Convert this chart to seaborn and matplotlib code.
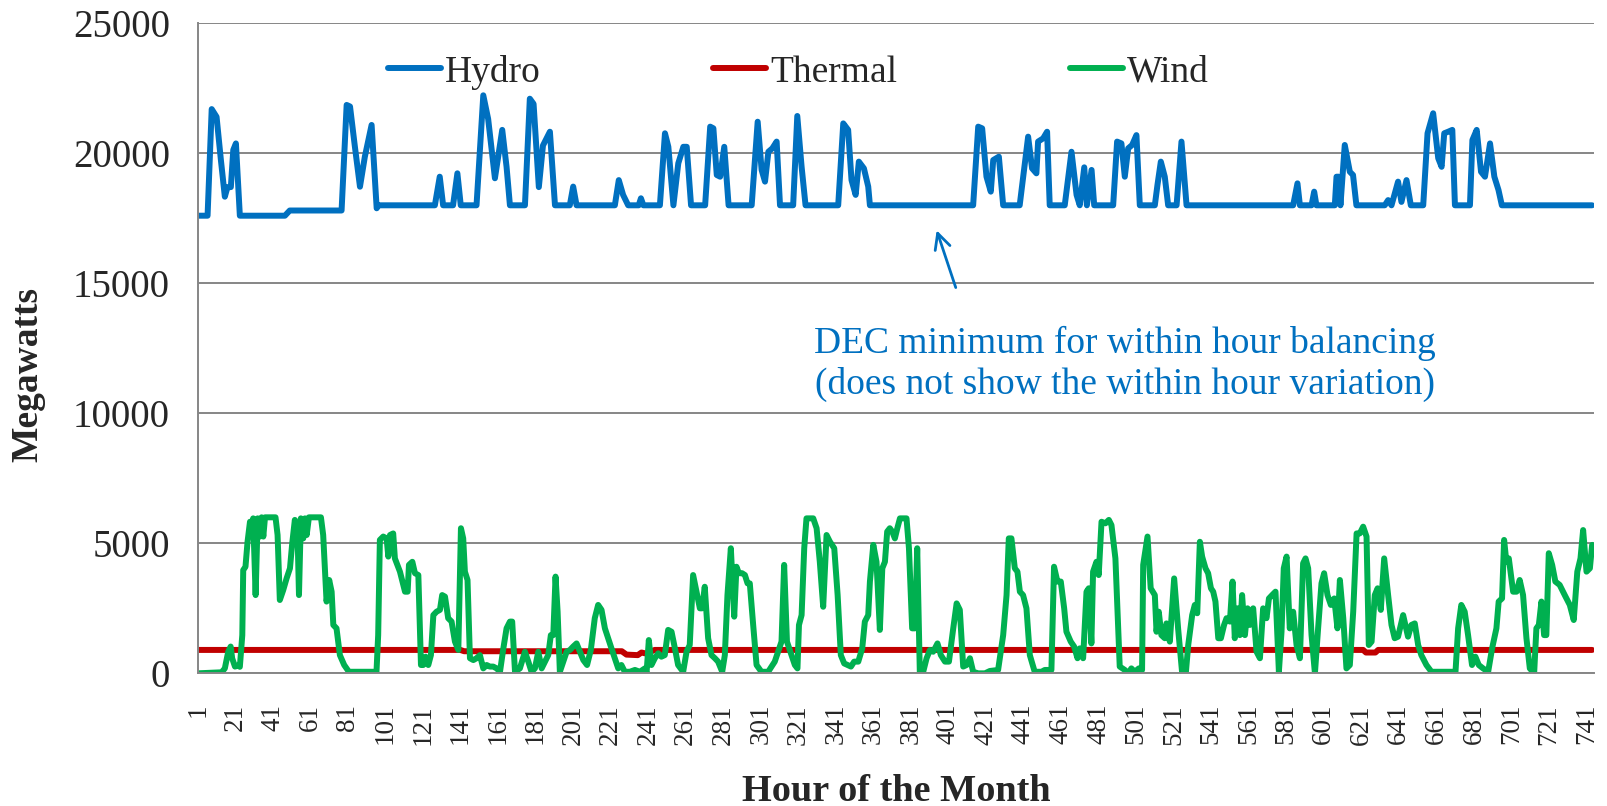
import pandas as pd
import matplotlib
matplotlib.use("Agg")
import matplotlib.pyplot as plt
from matplotlib.lines import Line2D
import seaborn as sns

# (hour, megawatts) vertices
hydro_points = [
    (1, 17600), (6.3, 17600), (8.5, 21700), (11.1, 21400), (13.4, 19740), (15.5, 18330),
    (16.9, 18700), (18.7, 18700), (20, 20130), (21.4, 20380), (23.5, 17600), (47.5, 17600),
    (50.1, 17800), (77.7, 17800), (80.4, 21860), (82.2, 21800), (84.8, 20250), (87.5, 18715),
    (90.1, 19870), (93.7, 21090), (96.4, 17885), (97.3, 18000), (127.4, 18000), (130, 19100),
    (131.8, 18000), (137.1, 18000), (139.4, 19230), (141.2, 18000), (149.6, 18000),
    (153.2, 22230), (155.8, 21320), (159.4, 19040), (163.3, 20900), (165.6, 19480),
    (167.4, 18000), (175.4, 18000), (178, 22100), (180, 21900), (182.8, 18700), (185, 20300),
    (188.7, 20830), (191.4, 18000), (199.3, 18000), (201.1, 18720), (202.9, 18000),
    (223.3, 18000), (225.4, 18970), (227.7, 18400), (230.4, 18000), (236, 18000),
    (237.2, 18270), (238.5, 18000), (247.3, 18000), (250, 20770), (251.8, 20250),
    (254.5, 18000), (257.1, 19615), (259.8, 20250), (261.6, 20250), (263.9, 18000),
    (271.4, 18000), (274.1, 21025), (275.8, 20960), (277.6, 19165), (279.4, 19100),
    (281.6, 20250), (283.9, 18000), (296.2, 18000), (299.4, 21215), (301.5, 19360),
    (303.3, 18910), (305.1, 20060), (307.2, 20190), (309.5, 20450), (311.3, 18000),
    (318.3, 18000), (320.5, 21435), (322.8, 19485), (324.9, 18000), (342.3, 18000),
    (345, 21150), (347.6, 20900), (349.4, 18970), (351.6, 18400), (353.3, 19680),
    (356, 19420), (358.3, 18720), (359.2, 18000), (414.2, 18000), (416.9, 21025),
    (419, 20960), (421.3, 19100), (423.6, 18525), (424.9, 19740), (427.9, 19870),
    (430.2, 18000), (439, 18000), (443.5, 20640), (445.6, 19420), (447.9, 19230),
    (448.8, 20450), (451.5, 20575), (453.6, 20830), (455, 18000), (463, 18000),
    (466.6, 20060), (469.3, 18400), (471, 18000), (473.4, 19460), (474.8, 18000),
    (477.3, 19360), (478.7, 18000), (488.8, 18000), (490.9, 20450), (493.2, 20380),
    (495, 19100), (496.8, 20190), (498.9, 20320), (501.2, 20700), (503, 18000),
    (511, 18000), (512.4, 18780), (514.2, 19680), (516.3, 19100), (518.1, 18000),
    (522.6, 18000), (525.2, 20450), (527.9, 18000), (584.7, 18000), (587, 18845),
    (588.3, 18000), (594.5, 18000), (595.9, 18525), (597.1, 18000), (606.9, 18000),
    (607.8, 19100), (609, 19100), (609.9, 18000), (612.2, 20320), (614.9, 19290),
    (616.6, 19165), (618.4, 18000), (633.5, 18000), (635.3, 18200), (637.1, 18000),
    (640.6, 18910), (642.4, 18130), (645.1, 18970), (647.4, 18000), (654, 18000),
    (656.3, 20770), (659.3, 21540), (662, 19810), (663.8, 19480), (665.2, 20770),
    (667.3, 20830), (669.5, 20900), (670.9, 18000), (678.9, 18000), (680.2, 20510),
    (682.5, 20900), (684.8, 19290), (686.9, 19100), (689.6, 20380), (691.9, 19100),
    (694.1, 18590), (695.9, 18000), (744, 18000),
]

thermal_points = [
    (1, 900), (141, 900), (143, 850), (227, 850), (229.5, 720), (235.5, 700),
    (237.5, 800), (240, 760), (244.5, 900), (622, 900), (623.5, 800), (628.5, 800),
    (630, 900), (744, 900),
]

wind_points = [
    (1, 0), (13.8, 40), (15.5, 190), (17.3, 830), (18.6, 1030), (19.4, 580), (20.9, 260),
    (22.6, 300), (23.5, 250), (24.8, 1470), (25.3, 3970), (26.5, 4100), (27.6, 5060),
    (28.9, 5830), (29.7, 5700), (30.6, 5960), (31.9, 3010), (33, 5960), (34.2, 5260),
    (35.1, 6000), (36, 5260), (36.9, 6000), (42.5, 6000), (43.6, 5320), (44.8, 2820),
    (46.6, 3200), (48.4, 3650), (50.2, 4040), (51.4, 5000), (52.8, 5900), (54.3, 5190),
    (55, 3010), (56, 5960), (57.3, 5190), (58.2, 5960), (59.1, 5320), (60.3, 6000),
    (66.7, 6000), (67.9, 5320), (69.7, 2760), (71.1, 3590), (72.4, 3140), (73.3, 1860),
    (75, 1730), (76.8, 700), (79.1, 320), (81.6, 60), (96.3, 60), (97.2, 1470),
    (98.1, 5130), (99.9, 5260), (101.7, 5190), (102.6, 4490), (103.5, 5320), (105.2, 5380),
    (106.1, 4420), (108.8, 3910), (111.5, 3140), (112.9, 3140), (113.6, 4170),
    (115.4, 4290), (116.8, 3850), (118.6, 3780), (120, 320), (121.2, 320), (122.5, 640),
    (123.9, 320), (125.3, 700), (126.6, 2240), (128.3, 2370), (130.1, 2440), (131.3, 3010),
    (132.8, 2950), (134.5, 2120), (136.3, 1990), (138.1, 1220), (139.9, 900), (141.3, 5580),
    (142.5, 5190), (143.4, 3910), (144.8, 3590), (146.1, 580), (147.9, 510), (149.6, 580),
    (151.4, 700), (153.2, 190), (155, 320), (156.7, 260), (158.5, 260), (160.3, 190),
    (162.1, 60), (163.9, 960), (165.6, 1730), (167.4, 1990), (168.6, 1990), (170.1, 60),
    (172.7, 190), (175.4, 830), (177.2, 450), (178.9, 60), (180.7, 190), (182.5, 830),
    (184.3, 190), (186.1, 450), (187.8, 700), (189.2, 1470), (190.5, 1470), (191.7, 3720),
    (192.8, 2370), (194, 60), (195.8, 450), (197.6, 830), (199.4, 900), (201.1, 1030),
    (202.9, 1150), (204.7, 830), (206.5, 510), (208.5, 320), (210.5, 900), (212.6, 2120),
    (214.4, 2630), (216.2, 2440), (218, 1730), (219.7, 1350), (221.5, 960), (223.3, 580),
    (225.1, 190), (226.8, 320), (228.6, 60), (231.3, 60), (234, 130), (236.6, 60),
    (239.3, 190), (240.2, 20), (241.4, 1280), (242.8, 320), (244.6, 580), (246.4, 770),
    (248.1, 640), (249.9, 700), (251.7, 1670), (253.5, 1600), (255.3, 960), (257, 320),
    (259.7, 60), (261.5, 830), (263.2, 1090), (265, 3780), (266.8, 3140), (268.6, 2500),
    (269.8, 2500), (271.2, 3330), (273, 1350), (274.8, 700), (276.6, 580), (278.3, 450),
    (280.5, 60), (281.9, 700), (283.3, 3010), (285.1, 4810), (286.9, 2180), (288.1, 4100),
    (289.4, 3850), (291.1, 3850), (292.6, 3780), (294, 3460), (295.2, 3460), (297, 1860),
    (298.8, 320), (301.4, 60), (305, 60), (306.8, 260), (308.5, 450), (310.3, 830),
    (312.1, 1220), (313.5, 4170), (315, 1220), (317.4, 700), (319.2, 320), (320.6, 190),
    (321.4, 1860), (322.8, 2240), (324.2, 4810), (325.4, 5960), (329, 5960), (330.8, 5580),
    (332.5, 4290), (334.3, 2560), (336.1, 5320), (337.9, 5060), (340.2, 4810), (342, 3010),
    (343.7, 700), (345.5, 380), (347.3, 320), (349.1, 260), (350.8, 450), (353, 450),
    (355.1, 960), (356.5, 1990), (358.3, 2240), (359.2, 3530), (361, 4940), (362.7, 4290),
    (364.5, 1670), (365.8, 4040), (367.2, 4290), (368.4, 5450), (369.8, 5580),
    (371.1, 5450), (372.5, 5190), (373.8, 5580), (375.2, 5960), (378.7, 5960),
    (380, 4810), (381.7, 1730), (383.2, 1730), (384.4, 4810), (385.8, 0), (387.6, 60),
    (389.4, 580), (391.2, 900), (392.9, 830), (395.2, 1150), (397, 700), (399.2, 450),
    (401.3, 450), (403.6, 1730), (405.4, 2690), (407.1, 2440), (408.9, 260), (410.7, 320),
    (412.5, 580), (414.2, 60), (416.9, 0), (420.5, 0), (423.1, 90), (427.5, 130),
    (430.2, 1470), (432, 3010), (433.2, 5190), (434.6, 5190), (436.4, 4040), (437.8, 3910),
    (439.1, 3140), (440.8, 3010), (442.6, 2500), (444.4, 700), (447, 60), (450.6, 60),
    (452.4, 130), (455.9, 130), (457.3, 4100), (459.1, 3530), (460.9, 3530), (462.7, 2500),
    (463.9, 1600), (466.2, 1220), (468, 1030), (469.8, 580), (471, 960), (472.8, 580),
    (474.6, 3140), (475.8, 3270), (477.2, 1150), (478.1, 3910), (479.9, 4290),
    (481.1, 3780), (482.6, 5830), (484.7, 5770), (486.5, 5900), (487.9, 5700), (490, 4420),
    (492.3, 260), (495, 130), (496.8, 0), (498.5, 190), (500.3, 60), (502.5, 190),
    (504.2, 130), (504.8, 4170), (507.1, 5260), (508.8, 3270), (511, 3010), (511.9, 1600),
    (513.1, 2370), (514.5, 1470), (516.3, 1350), (517.2, 1920), (519, 1220), (521.3, 3650),
    (523.4, 1730), (525.5, 60), (527.5, 0), (528.8, 1090), (530.9, 2240), (532.3, 2630),
    (533.6, 2310), (535, 5060), (536.2, 4490), (538, 4040), (539.4, 3850), (540.9, 3270),
    (542.1, 3140), (543.3, 2760), (544.8, 1350), (546.2, 1350), (547.9, 1860),
    (549.2, 2120), (551, 1990), (552.4, 3530), (553.6, 1350), (555.1, 2500), (556.3, 1470),
    (557.5, 3010), (559, 1470), (560.4, 2500), (561.6, 1860), (563.4, 2500), (565.2, 830),
    (567, 580), (568.7, 2500), (570.5, 2120), (571.8, 2880), (573.5, 3010), (575.3, 3140),
    (577.1, 60), (578.5, 1600), (579.7, 4040), (581.2, 4490), (582.9, 1730), (584.7, 2370),
    (586.5, 1090), (588.3, 580), (590, 4230), (591.3, 4420), (592.7, 4040), (594.5, 1470),
    (596.3, 0), (598, 1730), (599.8, 3460), (601.2, 3850), (603, 3010), (604.8, 2630),
    (606.6, 2880), (608.3, 1730), (609.6, 3590), (611.4, 2120), (613.1, 190), (614.9, 320),
    (616.7, 2370), (618.5, 5380), (620.2, 5380), (622, 5640), (623.8, 5260), (625, 1090),
    (626.5, 1220), (628.2, 3010), (629.7, 3270), (631.4, 2440), (633.2, 4420),
    (635.3, 3010), (637.1, 1860), (638.8, 1350), (640.6, 1410), (643.3, 2240),
    (645.9, 1410), (647.7, 1860), (649.5, 1920), (651.3, 1090), (653, 700), (655.7, 320),
    (658.4, 60), (671.2, 60), (672.6, 1730), (674.3, 2630), (676.1, 2370), (677.9, 1470),
    (680, 320), (681.8, 640), (683.6, 320), (685.9, 190), (688.6, 60), (690.7, 960),
    (693, 1730), (694.2, 2760), (696, 2880), (697.1, 5130), (698.3, 4290), (699.6, 4420),
    (701.9, 3140), (703.7, 3140), (705.4, 3590), (707.2, 3010), (709, 1350), (710.8, 190),
    (713.1, 0), (714.3, 1730), (715.6, 1860), (717, 2760), (718.4, 1470), (719.6, 1470),
    (720.9, 4620), (722.7, 4170), (724.4, 3530), (726.7, 3400), (729.4, 3010),
    (732.1, 2630), (734.2, 2050), (736.1, 3910), (737.8, 4420), (739.2, 5510), (741, 3910),
    (742.8, 4040), (744, 4940),
]

series_names = ["Hydro", "Thermal", "Wind"]
series_colors = ["#0070C0", "#C00000", "#00B050"]
y_ticks = [0, 5000, 10000, 15000, 20000, 25000]
x_label_hours = list(range(1, 742, 20))
x_mark_hours = list(range(1, 746, 24))

note_text = "DEC minimum for within hour balancing\n(does not show the within hour variation)"

# build one long table for seaborn
frames = []
for name, pts in zip(series_names, [hydro_points, thermal_points, wind_points]):
    d = pd.DataFrame(pts, columns=["hour", "mw"])
    d["source"] = name
    frames.append(d)
df = pd.concat(frames, ignore_index=True)

sns.set_style("white")
plt.rcParams["font.family"] = ["Liberation Serif", "DejaVu Serif"]

grey = "#868686"
blue = series_colors[0]

fig = plt.figure(figsize=(16.08, 8.06), dpi=100)
ax = fig.add_axes([0.1229, 0.1646, 0.8684, 0.8065])

sns.lineplot(data=df, x="hour", y="mw", hue="source", hue_order=series_names,
             palette=dict(zip(series_names, series_colors)), linewidth=4.3,
             sort=False, estimator=None, legend=False, ax=ax)

ax.set_xlim(1, 745)
ax.set_ylim(0, 25000)

# horizontal grid only
ax.set_yticks(y_ticks)
ax.set_yticklabels([str(v) for v in y_ticks])
ax.yaxis.grid(True, color=grey, linewidth=1.4)
ax.xaxis.grid(False)
ax.set_axisbelow(True)

# x labels every 20 hours, tick marks every 24 hours
ax.set_xticks(x_label_hours)
ax.set_xticklabels([str(h) for h in x_label_hours], rotation=90)
ax.set_xticks(x_mark_hours, minor=True)
ax.xaxis.remove_overlapping_locs = False
ax.tick_params(axis="x", which="major", length=0, pad=22, labelsize=19.5)
ax.tick_params(axis="x", which="minor", length=6, width=1.4, color=grey)
ax.tick_params(axis="y", which="major", length=8, width=1.4, color=grey, pad=12, labelsize=28)

for side in ["top", "right"]:
    ax.spines[side].set_visible(False)
for side in ["left", "bottom"]:
    ax.spines[side].set_color(grey)
    ax.spines[side].set_linewidth(1.4)

ax.set_xlabel("Hour of the Month", fontsize=27.5, fontweight="bold")
ax.xaxis.set_label_coords(0.5, -0.155)
ax.set_ylabel("Megawatts", fontsize=27, fontweight="bold")
ax.yaxis.set_label_coords(-0.1087, 0.459)

handles = [Line2D([], [], color=c, linewidth=4.3) for c in series_colors]
ax.legend(handles, series_names, ncol=3, loc="center", bbox_to_anchor=(0.43, 0.925),
          frameon=False, fontsize=27, handlelength=1.42, handletextpad=0.1,
          columnspacing=4.6)

# note with arrow
ax.annotate("", xy=(394.3, 17140), xytext=(405.4, 14735),
            arrowprops=dict(arrowstyle="->", color=blue, lw=2, mutation_scale=28))
ax.text(495, 11900, note_text, ha="center", va="center", color=blue,
        fontsize=27, linespacing=1.25)

fig.savefig("out.png", dpi=100)
